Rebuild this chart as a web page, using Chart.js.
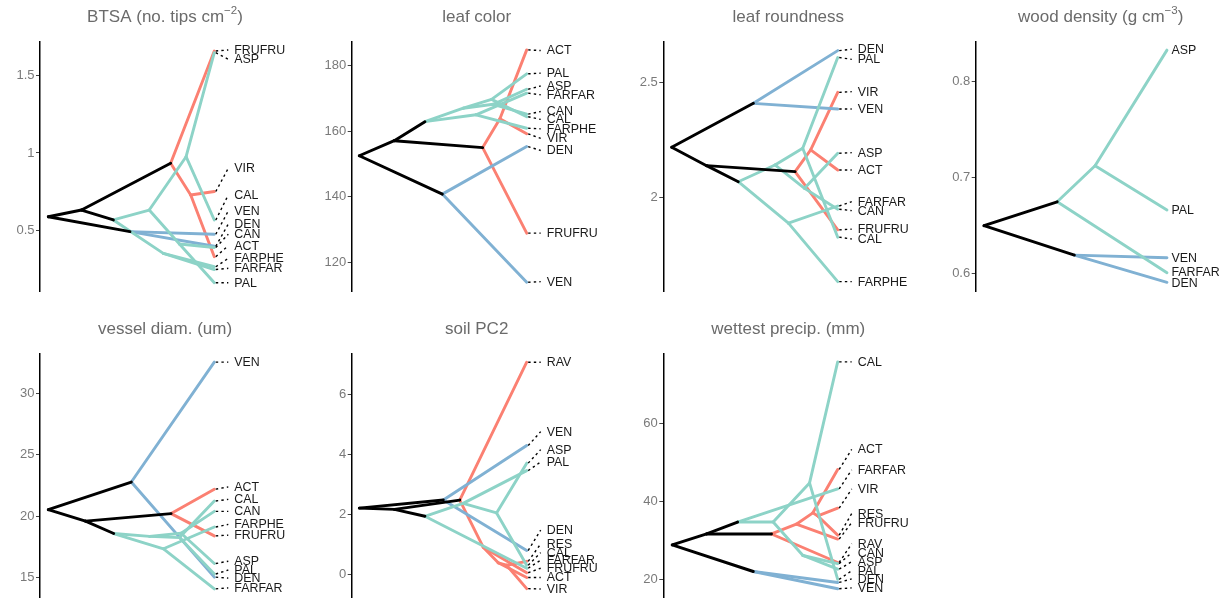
<!DOCTYPE html>
<html><head><meta charset="utf-8">
<script src="https://cdn.jsdelivr.net/npm/chart.js@4.4.1/dist/chart.umd.min.js"></script>
<style>
html,body{margin:0;padding:0;background:#fff;width:1227px;height:607px;overflow:hidden;}
canvas{position:absolute;left:0;top:0;}
</style></head><body>
<script>
// ---------- DATA ----------
// node tables: [name, parent, depth, trait value, clade of incoming edge]
const btsaNodes = [
  ['root', null, 0, 0.59, 'k'], ['A', 'root', 0.2, 0.633, 'k'], ['blue', 'root', 0.492, 0.494, 'k'],
  ['teal', 'A', 0.392, 0.569, 'k'], ['red', 'A', 0.737, 0.934, 'k'],
  ['T1', 'teal', 0.608, 0.633, 't'], ['T3', 'teal', 0.693, 0.354, 't'],
  ['T4', 'T1', 0.83, 0.976, 't'], ['T2', 'T1', 0.79, 0.414, 't'],
  ['ASP', 'T4', 1, 1.645, 't'], ['CAL', 'T4', 1, 0.569, 't'],
  ['PAL', 'T2', 1, 0.165, 't'], ['CAN', 'T2', 1, 0.392, 't'],
  ['FARPHE', 'T3', 1, 0.268, 't'], ['FARFAR', 'T3', 1, 0.250, 't'],
  ['VEN', 'blue', 1, 0.477, 'b'], ['DEN', 'blue', 1, 0.40, 'b'],
  ['R1', 'red', 0.858, 0.73, 'r'], ['FRUFRU', 'red', 1, 1.656, 'r'],
  ['VIR', 'R1', 1, 0.752, 'r'], ['ACT', 'R1', 1, 0.333, 'r']
];
const btsaLabels = [['FRUFRU',1.663],['ASP',1.603],['VIR',0.902],['CAL',0.73],['VEN',0.627],['DEN',0.543],['CAN',0.477],['ACT',0.404],['FARPHE',0.322],['FARFAR',0.258],['PAL',0.165]];
const btsaTicks = [0.5, 1, 1.5];

const leafColorNodes = [
  ['root', null, 0, 152.5, 'k'], ['A', 'root', 0.209, 157.1, 'k'], ['blue', 'root', 0.496, 140.8, 'k'],
  ['teal', 'A', 0.392, 162.9, 'k'], ['red', 'A', 0.737, 155.0, 'k'],
  ['T1', 'teal', 0.621, 167.0, 't'], ['T3', 'teal', 0.697, 165.0, 't'],
  ['T2', 'T1', 0.79, 169.7, 't'], ['T4', 'T1', 0.80, 168.2, 't'],
  ['PAL', 'T2', 1, 177.5, 't'], ['CAL', 'T2', 1, 164.4, 't'],
  ['ASP', 'T4', 1, 172.8, 't'], ['CAN', 'T4', 1, 165.2, 't'],
  ['FARFAR', 'T3', 1, 171.6, 't'], ['FARPHE', 'T3', 1, 160.9, 't'],
  ['DEN', 'blue', 1, 155.3, 'b'], ['VEN', 'blue', 1, 113.9, 'b'],
  ['R1', 'red', 0.84, 163.8, 'r'], ['FRUFRU', 'red', 1, 128.9, 'r'],
  ['ACT', 'R1', 1, 184.8, 'r'], ['VIR', 'R1', 1, 159.2, 'r']
];
const leafColorLabels = [['ACT',184.6],['PAL',177.7],['ASP',173.8],['FARFAR',171.1],['CAN',166.0],['CAL',163.6],['FARPHE',160.7],['VIR',157.8],['DEN',154.1],['FRUFRU',128.9],['VEN',114.1]];
const leafColorTicks = [120, 140, 160, 180];

const leafRoundNodes = [
  ['root', null, 0, 2.218, 'k'], ['A', 'root', 0.21, 2.138, 'k'], ['blue', 'root', 0.492, 2.41, 'k'],
  ['teal', 'A', 0.401, 2.068, 'k'], ['red', 'A', 0.743, 2.112, 'k'],
  ['T1', 'teal', 0.622, 2.141, 't'], ['T3', 'teal', 0.703, 1.887, 't'],
  ['T2', 'T1', 0.789, 2.214, 't'], ['T4', 'T1', 0.80, 2.039, 't'],
  ['PAL', 'T2', 1, 2.61, 't'], ['CAL', 'T2', 1, 1.826, 't'],
  ['ASP', 'T4', 1, 2.192, 't'], ['CAN', 'T4', 1, 1.948, 't'],
  ['FARFAR', 'T3', 1, 1.962, 't'], ['FARPHE', 'T3', 1, 1.632, 't'],
  ['DEN', 'blue', 1, 2.64, 'b'], ['VEN', 'blue', 1, 2.385, 'b'],
  ['R1', 'red', 0.837, 2.207, 'r'], ['FRUFRU', 'red', 1, 1.858, 'r'],
  ['VIR', 'R1', 1, 2.458, 'r'], ['ACT', 'R1', 1, 2.119, 'r']
];
const leafRoundLabels = [['DEN',2.646],['PAL',2.602],['VIR',2.461],['VEN',2.385],['ASP',2.195],['ACT',2.119],['FARFAR',1.981],['CAN',1.942],['FRUFRU',1.861],['CAL',1.818],['FARPHE',1.632]];
const leafRoundTicks = [2, 2.5];

const woodNodes = [
  ['root', null, 0, 0.6497, 'k'], ['teal', 'root', 0.40, 0.6747, 'k'], ['blue', 'root', 0.494, 0.619, 'k'],
  ['T1', 'teal', 0.607, 0.7123, 't'], ['FARFAR', 'teal', 1, 0.6006, 't'],
  ['ASP', 'T1', 1, 0.833, 't'], ['PAL', 'T1', 1, 0.666, 't'],
  ['VEN', 'blue', 1, 0.6163, 'b'], ['DEN', 'blue', 1, 0.5906, 'b']
];
const woodLabels = [['ASP',0.833],['PAL',0.666],['VEN',0.6163],['FARFAR',0.6017],['DEN',0.5902]];
const woodTicks = [0.6, 0.7, 0.8];

const vesselNodes = [
  ['root', null, 0, 20.52, 'k'], ['blue', 'root', 0.50, 22.77, 'k'], ['A', 'root', 0.224, 19.59, 'k'],
  ['red', 'A', 0.74, 20.2, 'k'], ['teal', 'A', 0.394, 18.58, 'k'],
  ['T1', 'teal', 0.61, 18.35, 't'], ['T3', 'teal', 0.694, 17.34, 't'],
  ['T2', 'T1', 0.79, 18.25, 't'], ['T4', 'T1', 0.80, 18.6, 't'],
  ['CAL', 'T2', 1, 21.23, 't'], ['PAL', 'T2', 1, 15.29, 't'],
  ['CAN', 'T4', 1, 20.38, 't'], ['ASP', 'T4', 1, 16.14, 't'],
  ['FARPHE', 'T3', 1, 19.11, 't'], ['FARFAR', 'T3', 1, 14.08, 't'],
  ['VEN', 'blue', 1, 32.52, 'b'], ['DEN', 'blue', 1, 15.03, 'b'],
  ['ACT', 'red', 1, 22.19, 'r'], ['FRUFRU', 'red', 1, 18.39, 'r']
];
const vesselLabels = [['VEN',32.52],['ACT',22.37],['CAL',21.36],['CAN',20.38],['FARPHE',19.32],['FRUFRU',18.45],['ASP',16.33],['PAL',15.61],['DEN',14.95],['FARFAR',14.16]];
const vesselTicks = [15, 20, 25, 30];

const soilNodes = [
  ['root', null, 0, 2.201, 'k'], ['blue', 'root', 0.502, 2.474, 'k'], ['A', 'root', 0.21, 2.16, 'k'],
  ['teal', 'A', 0.392, 1.93, 'k'], ['red', 'A', 0.60, 2.47, 'k'],
  ['T1', 'teal', 0.62, 2.36, 't'], ['FARFAR', 'teal', 1, 0.2, 't'],
  ['PAL', 'T1', 1, 3.45, 't'], ['T2', 'T1', 0.82, 2.04, 't'],
  ['ASP', 'T2', 1, 3.70, 't'], ['CAL', 'T2', 1, 0.30, 't'],
  ['VEN', 'blue', 1, 4.285, 'b'], ['DEN', 'blue', 1, 0.79, 'b'],
  ['RAV', 'red', 1, 7.06, 'r'], ['R1', 'red', 0.74, 0.90, 'r'],
  ['FRUFRU', 'R1', 1, 0.05, 'r'], ['R2', 'R1', 0.83, 0.38, 'r'],
  ['ACT', 'R2', 1, -0.11, 'r'], ['R3', 'R2', 0.88, 0.30, 'r'],
  ['RES', 'R3', 1, 0.43, 'r'], ['VIR', 'R3', 1, -0.48, 'r']
];
const soilLabels = [['RAV',7.06],['VEN',4.75],['ASP',4.15],['PAL',3.74],['DEN',1.47],['RES',1.01],['CAL',0.72],['FARFAR',0.47],['FRUFRU',0.20],['ACT',-0.11],['VIR',-0.49]];
const soilTicks = [0, 2, 4, 6];

const precipNodes = [
  ['root', null, 0, 28.9, 'k'], ['A', 'root', 0.208, 31.7, 'k'], ['blue', 'root', 0.49, 22.1, 'k'],
  ['teal', 'A', 0.395, 34.75, 'k'], ['red', 'A', 0.60, 31.7, 'k'],
  ['FARFAR', 'teal', 1, 43.2, 't'], ['T1', 'teal', 0.61, 34.75, 't'],
  ['T2', 'T1', 0.83, 44.75, 't'], ['T4', 'T1', 0.79, 26.2, 't'],
  ['CAL', 'T2', 1, 75.7, 't'], ['PAL', 'T2', 1, 20.1, 't'],
  ['CAN', 'T4', 1, 24.1, 't'], ['ASP', 'T4', 1, 22.7, 't'],
  ['DEN', 'blue', 1, 19.3, 'b'], ['VEN', 'blue', 1, 17.7, 'b'],
  ['RAV', 'red', 1, 24.4, 'r'], ['R1', 'red', 0.75, 34.2, 'r'],
  ['FRUFRU', 'R1', 1, 30.4, 'r'], ['R2', 'R1', 0.85, 37.1, 'r'],
  ['ACT', 'R2', 1, 48.2, 'r'], ['R3', 'R2', 0.88, 36.3, 'r'],
  ['VIR', 'R3', 1, 38.3, 'r'], ['RES', 'R3', 1, 31.4, 'r']
];
const precipLabels = [['CAL',75.7],['ACT',53.3],['FARFAR',48.1],['VIR',43.2],['RES',36.9],['FRUFRU',34.6],['RAV',29.2],['CAN',26.9],['ASP',24.6],['PAL',22.3],['DEN',20.2],['VEN',17.9]];
const precipTicks = [20, 40, 60];

// ---------- LAYOUT / STYLE ----------
const W = 1227, H = 607;
const COLORS = {k: '#000000', t: '#8dd3c7', r: '#fb8072', b: '#80b1d3'};
const panels = [
  {nodes: btsaNodes, labels: btsaLabels, ticks: btsaTicks, title: 'BTSA (no. tips cm^{\u22122})', axisX: 40, top: 41.7, bottom: 291.7, titleY: 17, ymin: 0.1075, ymax: 1.716, xmin: -0.05, xmax: 1.456, leader: true},
  {nodes: leafColorNodes, labels: leafColorLabels, ticks: leafColorTicks, title: 'leaf color', axisX: 351.7, top: 41.7, bottom: 291.7, titleY: 17, ymin: 111.03, ymax: 187.3, xmin: -0.0454, xmax: 1.448, leader: true},
  {nodes: leafRoundNodes, labels: leafRoundLabels, ticks: leafRoundTicks, title: 'leaf roundness', axisX: 663.3, top: 41.7, bottom: 291.7, titleY: 17, ymin: 1.588, ymax: 2.679, xmin: -0.0506, xmax: 1.455, leader: true},
  {nodes: woodNodes, labels: woodLabels, ticks: woodTicks, title: 'wood density (g cm^{\u22123})', axisX: 975.7, top: 41.7, bottom: 291.7, titleY: 17, ymin: 0.5808, ymax: 0.8418, xmin: -0.0454, xmax: 1.321, leader: false},
  {nodes: vesselNodes, labels: vesselLabels, ticks: vesselTicks, title: 'vessel diam. (um)', axisX: 40, top: 353.3, bottom: 603.3, titleY: 329, ymin: 13.36, ymax: 33.24, xmin: -0.05, xmax: 1.456, leader: true},
  {nodes: soilNodes, labels: soilLabels, ticks: soilTicks, title: 'soil PC2', axisX: 351.7, top: 353.3, bottom: 603.3, titleY: 329, ymin: -0.781, ymax: 7.357, xmin: -0.0454, xmax: 1.448, leader: true},
  {nodes: precipNodes, labels: precipLabels, ticks: precipTicks, title: 'wettest precip. (mm)', axisX: 663.3, top: 353.3, bottom: 603.3, titleY: 329, ymin: 15.4, ymax: 77.9, xmin: -0.054, xmax: 1.457, leader: true}
];

const FONT = '"Liberation Sans", Arial, Helvetica, sans-serif';

const phyloPlugin = {
  id: 'phylo',
  afterDatasetsDraw(chart, args, o) {
    const ctx = chart.ctx, xs = chart.scales.x, ys = chart.scales.y;
    const byName = {};
    o.nodes.forEach(n => { byName[n[0]] = n; });
    ctx.save();
    ctx.font = '12.4px ' + FONT;
    ctx.textBaseline = 'middle';
    ctx.textAlign = 'left';
    o.labels.forEach(([name, lv]) => {
      const n = byName[name];
      const tx = xs.getPixelForValue(n[2]);
      const ty = ys.getPixelForValue(n[3]);
      const ly = ys.getPixelForValue(lv);
      const gap = o.leader ? 20 : 4.5;
      if (o.leader) {
        ctx.beginPath();
        ctx.setLineDash([2.4, 3.2]);
        ctx.lineWidth = 1.4;
        ctx.strokeStyle = '#000';
        ctx.moveTo(tx + 1.5, ty);
        ctx.lineTo(tx + gap - 6, ly);
        ctx.stroke();
        ctx.setLineDash([]);
      }
      ctx.fillStyle = '#1a1a1a';
      ctx.fillText(name, tx + gap, ly + 0.5);
    });
    // title with optional superscript ^{...}
    const parts = [];
    const re = /\^\{([^}]*)\}/g;
    let last = 0, m;
    while ((m = re.exec(o.title)) !== null) {
      parts.push({t: o.title.slice(last, m.index), sup: false});
      parts.push({t: m[1], sup: true});
      last = re.lastIndex;
    }
    parts.push({t: o.title.slice(last), sup: false});
    const mainF = '17px ' + FONT, supF = '11.5px ' + FONT;
    let total = 0;
    parts.forEach(p => { ctx.font = p.sup ? supF : mainF; p.w = ctx.measureText(p.t).width; total += p.w; });
    const ca = chart.chartArea;
    let x = (ca.left + ca.right) / 2 - total / 2;
    ctx.fillStyle = '#6b6b6b';
    ctx.textBaseline = 'middle';
    parts.forEach(p => {
      ctx.font = p.sup ? supF : mainF;
      ctx.fillText(p.t, x, o.titleY + (p.sup ? -6 : 0));
      x += p.w;
    });
    ctx.restore();
  }
};

const order = {k: 0, t: 1, b: 2, r: 3};

panels.forEach(p => {
  const cv = document.createElement('canvas');
  cv.width = W; cv.height = H;
  cv.style.width = W + 'px'; cv.style.height = H + 'px';
  document.body.appendChild(cv);
  const byName = {};
  p.nodes.forEach(n => { byName[n[0]] = n; });
  const edges = p.nodes.filter(n => n[1] !== null).sort((a, b) => order[a[4]] - order[b[4]]);
  const datasets = edges.map(n => {
    const par = byName[n[1]];
    return {
      data: [{x: par[2], y: par[3]}, {x: n[2], y: n[3]}],
      borderColor: COLORS[n[4]],
      borderWidth: 2.9,
      pointRadius: 0,
      fill: false,
      tension: 0,
      borderCapStyle: 'round',
      borderJoinStyle: 'round'
    };
  });
  const yw = 40;
  new Chart(cv, {
    type: 'line',
    data: {datasets},
    plugins: [phyloPlugin],
    options: {
      responsive: false,
      animation: false,
      events: [],
      layout: {padding: {left: p.axisX - yw, right: W - p.axisX - 250, top: p.top, bottom: H - p.bottom}},
      plugins: {
        legend: {display: false}, tooltip: {enabled: false}, title: {display: false},
        phylo: {nodes: p.nodes, labels: p.labels, leader: p.leader, title: p.title, titleY: p.titleY}
      },
      scales: {
        x: {type: 'linear', display: false, min: p.xmin, max: p.xmax},
        y: {
          type: 'linear', min: p.ymin, max: p.ymax,
          afterFit(s) { s.width = yw; },
          afterBuildTicks(s) { s.ticks = p.ticks.map(v => ({value: v})); },
          ticks: {
            color: '#7a7a7a', padding: 1.5,
            font: {family: FONT, size: 13},
            callback: v => String(Math.round(v * 1000) / 1000)
          },
          grid: {display: true, drawOnChartArea: false, drawTicks: true, tickLength: 4, color: '#444', lineWidth: 1},
          border: {display: true, color: '#000', width: 1.5}
        }
      }
    }
  });
});
</script>
</body></html>
